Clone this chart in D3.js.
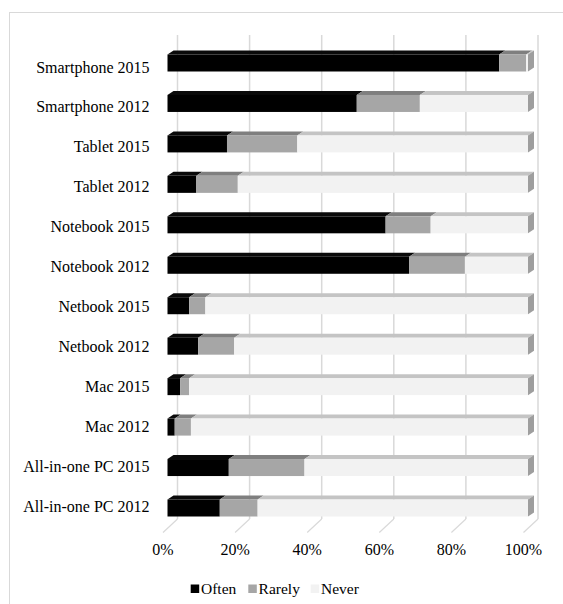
<!DOCTYPE html>
<html>
<head>
<meta charset="utf-8">
<script src="https://cdn.jsdelivr.net/npm/d3@7"></script>
<style>
  html, body { margin: 0; padding: 0; background: #fff; }
  svg { display: block; }
</style>
</head>
<body>
<svg id="chart" width="563" height="604"></svg>
<script>
// Device usage shares (percent of respondents), listed top to bottom
const categories = [
  "Smartphone 2015", "Smartphone 2012", "Tablet 2015", "Tablet 2012",
  "Notebook 2015", "Notebook 2012", "Netbook 2015", "Netbook 2012",
  "Mac 2015", "Mac 2012", "All-in-one PC 2015", "All-in-one PC 2012"
];
const often  = [92, 52.5, 16.5, 8, 60.5, 67, 6, 8.5, 3.5, 2, 17, 14.5];
const rarely = [7.5, 17.5, 19.5, 11.5, 12.5, 15.5, 4.5, 10, 2.5, 4.5, 21, 10.5];
const never  = [0.5, 30, 64, 80.5, 27, 17.5, 89.5, 81.5, 94, 93.5, 62, 75];

const seriesNames = ["Often", "Rarely", "Never"];
const tickValues = [0, 20, 40, 60, 80, 100];
const tickLabels = ["0%", "20%", "40%", "60%", "80%", "100%"];

// face colours per series: front, top, side
const faceColors = {
  Often:  { front: "#000000", top: "#0a0a0a", side: "#000000" },
  Rarely: { front: "#a6a6a6", top: "#7f7f7f", side: "#8c8c8c" },
  Never:  { front: "#f2f2f2", top: "#c4c4c4", side: "#9e9e9e" }
};

const rows = categories.map((c, i) => ({
  category: c,
  values: { Often: often[i], Rarely: rarely[i], Never: never[i] }
}));
const stack = d3.stack().keys(seriesNames).value((d, k) => d.values[k]);
const layers = stack(rows);

const svg = d3.select("#chart");
const fontFamily = "Liberation Serif";

// chart frame
svg.append("rect")
  .attr("x", 9.5).attr("y", 12.5)
  .attr("width", 600).attr("height", 640)
  .attr("fill", "none").attr("stroke", "#d9d9d9").attr("stroke-width", 1);

// scales
const x = d3.scaleLinear().domain([0, 100]).range([167.5, 528]);
const y = d3.scalePoint().domain(categories).range([63, 508]);
const yLabel = d3.scalePoint().domain(categories).range([72.5, 512]);
const barH = 17;                // front face height
const depthX = 6, depthY = 4;   // bar depth offset
const wallX = 10;               // back wall offset
const wallTop = 35, wallBottom = 519;
const floorDX = -14.5, floorBottom = 532.5;

// back wall gridlines
svg.append("g").selectAll("line")
  .data(tickValues).join("line")
  .attr("x1", d => x(d) + wallX).attr("x2", d => x(d) + wallX)
  .attr("y1", wallTop).attr("y2", wallBottom)
  .attr("stroke", "#d9d9d9").attr("stroke-width", 1.5);

// floor lines running toward the viewer
svg.append("g").selectAll("line")
  .data(tickValues).join("line")
  .attr("x1", d => x(d) + wallX).attr("y1", wallBottom)
  .attr("x2", d => x(d) + wallX + floorDX).attr("y2", floorBottom)
  .attr("stroke", "#d9d9d9").attr("stroke-width", 1.2);

// tick labels
svg.append("g").selectAll("text")
  .data(tickValues).join("text")
  .attr("x", d => x(d) + wallX + floorDX)
  .attr("y", 555)
  .attr("text-anchor", "middle")
  .attr("font-family", fontFamily)
  .attr("font-size", 16)
  .attr("fill", "#000")
  .text((d, i) => tickLabels[i]);

// category labels
svg.append("g").selectAll("text")
  .data(categories).join("text")
  .attr("x", 149.5)
  .attr("y", d => yLabel(d))
  .attr("text-anchor", "end")
  .attr("font-family", fontFamily)
  .attr("font-size", 16)
  .attr("fill", "#000")
  .text(d => d);

// 3D bars
const bars = svg.append("g");
const poly = pts => pts.map(p => p.join(",")).join(" ");

rows.forEach((row, i) => {
  const cy = y(row.category);
  const top = cy - barH / 2, bot = cy + barH / 2;
  const g = bars.append("g");
  layers.forEach(layer => {
    const seg = layer[i];
    const x0 = x(seg[0]), x1 = x(seg[1]);
    if (x1 - x0 <= 0) return;
    const col = faceColors[layer.key];
    // top face
    g.append("polygon")
      .attr("points", poly([[x0, top], [x0 + depthX, top - depthY], [x1 + depthX, top - depthY], [x1, top]]))
      .attr("fill", col.top);
    // front face
    g.append("rect")
      .attr("x", x0).attr("y", top)
      .attr("width", x1 - x0).attr("height", barH)
      .attr("fill", col.front);
  });
  // end face of the last non-empty segment
  const last = layers[layers.length - 1];
  const endKey = [...layers].reverse().find(l => l[i][1] - l[i][0] > 0).key;
  const xe = x(last[i][1]);
  g.append("polygon")
    .attr("points", poly([[xe, top], [xe + depthX, top - depthY], [xe + depthX, bot - depthY], [xe, bot]]))
    .attr("fill", faceColors[endKey].side);
});

// legend
const legendX = [190.7, 248.3, 310.7];
const legend = svg.append("g");
seriesNames.forEach((name, i) => {
  legend.append("rect")
    .attr("x", legendX[i]).attr("y", 584.5)
    .attr("width", 8.5).attr("height", 8.5)
    .attr("fill", faceColors[name].front);
  legend.append("text")
    .attr("x", legendX[i] + 10.3).attr("y", 594)
    .attr("font-family", fontFamily)
    .attr("font-size", 15.5)
    .attr("fill", "#000")
    .text(name);
});
</script>
</body>
</html>
